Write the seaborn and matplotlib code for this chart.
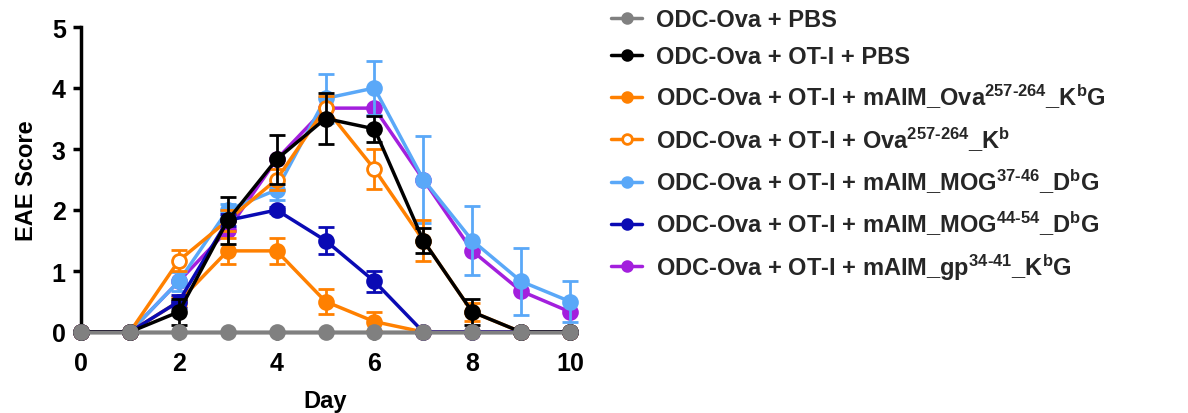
import numpy as np
import pandas as pd
import matplotlib
matplotlib.use("Agg")
import matplotlib.pyplot as plt
from matplotlib.lines import Line2D
import seaborn as sns

days = [0, 1, 2, 3, 4, 5, 6, 7, 8, 9, 10]

pbs = [0, 0, 0, 0, 0, 0, 0, 0, 0, 0, 0]
pbs_err = [0] * 11
ot1_pbs = [0, 0, 0.33, 1.83, 2.83, 3.5, 3.33, 1.5, 0.33, 0, 0]
ot1_pbs_err = [0, 0, 0.21, 0.39, 0.4, 0.42, 0.21, 0.21, 0.21, 0, 0]
maim_ova = [0, 0, 0.5, 1.33, 1.33, 0.5, 0.17, 0, 0, 0, 0]
maim_ova_err = [0, 0, 0.08, 0.21, 0.21, 0.21, 0.16, 0, 0, 0, 0]
ova_kb = [0, 0, 1.17, 1.83, 2.5, 3.67, 2.67, 1.5, 0.33, 0, 0]
ova_kb_err = [0, 0, 0.17, 0.17, 0.18, 0.2, 0.33, 0.33, 0.15, 0, 0]
mog3746 = [0, 0, 0.83, 2.0, 2.33, 3.83, 4.0, 2.5, 1.5, 0.83, 0.5]
mog3746_err = [0, 0, 0.15, 0.1, 0.17, 0.4, 0.44, 0.72, 0.56, 0.55, 0.34]
mog4454 = [0, 0, 0.5, 1.83, 2.0, 1.5, 0.83, 0, 0, 0, 0]
mog4454_err = [0, 0, 0.1, 0.1, 0.05, 0.22, 0.17, 0, 0, 0, 0]
gp3441 = [0, 0, 0.83, 1.67, 2.83, 3.67, 3.67, 2.5, 1.33, 0.67, 0.33]
gp3441_err = [0] * 11

labels = [
    "ODC-Ova + PBS",
    "ODC-Ova + OT-I + PBS",
    r"ODC-Ova + OT-I + mAIM_Ova$^{257\text{-}264}$_K$^{b}$G",
    r"ODC-Ova + OT-I + Ova$^{257\text{-}264}$_K$^{b}$",
    r"ODC-Ova + OT-I + mAIM_MOG$^{37\text{-}46}$_D$^{b}$G",
    r"ODC-Ova + OT-I + mAIM_MOG$^{44\text{-}54}$_D$^{b}$G",
    r"ODC-Ova + OT-I + mAIM_gp$^{34\text{-}41}$_K$^{b}$G",
]
colors = ["#808080", "#000000", "#FF8000", "#FF8000", "#5AA8F8", "#0A0AB4", "#A31FDD"]
open_marker = [False, False, False, True, False, False, False]
series = [pbs, ot1_pbs, maim_ova, ova_kb, mog3746, mog4454, gp3441]
errors = [pbs_err, ot1_pbs_err, maim_ova_err, ova_kb_err, mog3746_err, mog4454_err, gp3441_err]
# drawing order (bottom to top)
draw_order = [6, 4, 2, 3, 5, 1, 0]

sns.set_theme(style="ticks")
plt.rcParams["font.family"] = ["Liberation Sans", "DejaVu Sans"]
plt.rcParams["font.weight"] = "bold"
plt.rcParams["mathtext.fontset"] = "custom"
plt.rcParams["mathtext.rm"] = "Liberation Sans:bold"
plt.rcParams["mathtext.it"] = "Liberation Sans:bold"
plt.rcParams["mathtext.bf"] = "Liberation Sans:bold"
plt.rcParams["mathtext.default"] = "rm"

fig = plt.figure(figsize=(11.88, 4.14), dpi=100)
ax = fig.add_axes([81 / 1188, 81 / 414, 489 / 1188, 305 / 414])

for k, i in enumerate(draw_order):
    c = colors[i]
    vals = np.array(series[i], dtype=float)
    err = np.array(errors[i], dtype=float)
    mask = err > 0
    if mask.any():
        ax.errorbar(np.array(days)[mask], vals[mask], yerr=err[mask], fmt="none",
                    ecolor=c, elinewidth=2, capsize=6, capthick=2,
                    zorder=3 + k, clip_on=False)
    df = pd.DataFrame({"Day": days, "Score": vals})
    sns.lineplot(data=df, x="Day", y="Score", ax=ax, color=c, linewidth=2.5,
                 marker="o", markersize=10,
                 markerfacecolor="white" if open_marker[i] else c,
                 markeredgecolor=c, markeredgewidth=2,
                 clip_on=False, zorder=3.5 + k, legend=False)

ax.set_xlim(0, 10)
ax.set_ylim(0, 5)
ax.set_xticks([0, 2, 4, 6, 8, 10])
ax.set_yticks([0, 1, 2, 3, 4, 5])
ax.tick_params(axis="both", labelsize=18, width=2.5, length=6, color="black",
               labelcolor="black")
ax.tick_params(axis="x", pad=8)
ax.tick_params(axis="y", pad=5)
for lab in ax.get_xticklabels() + ax.get_yticklabels():
    lab.set_fontweight("bold")
for side in ["left", "bottom"]:
    ax.spines[side].set_linewidth(2.5)
    ax.spines[side].set_color("black")
for side in ["top", "right"]:
    ax.spines[side].set_visible(False)
ax.set_xlabel("Day", fontsize=17, fontweight="bold", labelpad=10, color="black")
ax.set_ylabel("EAE Score", fontsize=17, fontweight="bold", labelpad=10, color="black")

handles = []
for i in range(7):
    c = colors[i]
    handles.append(Line2D([0], [0], color=c, linewidth=2.5, marker="o", markersize=7,
                          markerfacecolor="white" if open_marker[i] else c,
                          markeredgecolor=c, markeredgewidth=2))
fig.legend(handles, labels, loc="upper left", bbox_to_anchor=(602 / 1188, 1.0),
           frameon=False, fontsize=17, handlelength=1.3, handletextpad=0.6,
           labelspacing=0.58, borderaxespad=0.0)

fig.savefig("out.png", dpi=100)
